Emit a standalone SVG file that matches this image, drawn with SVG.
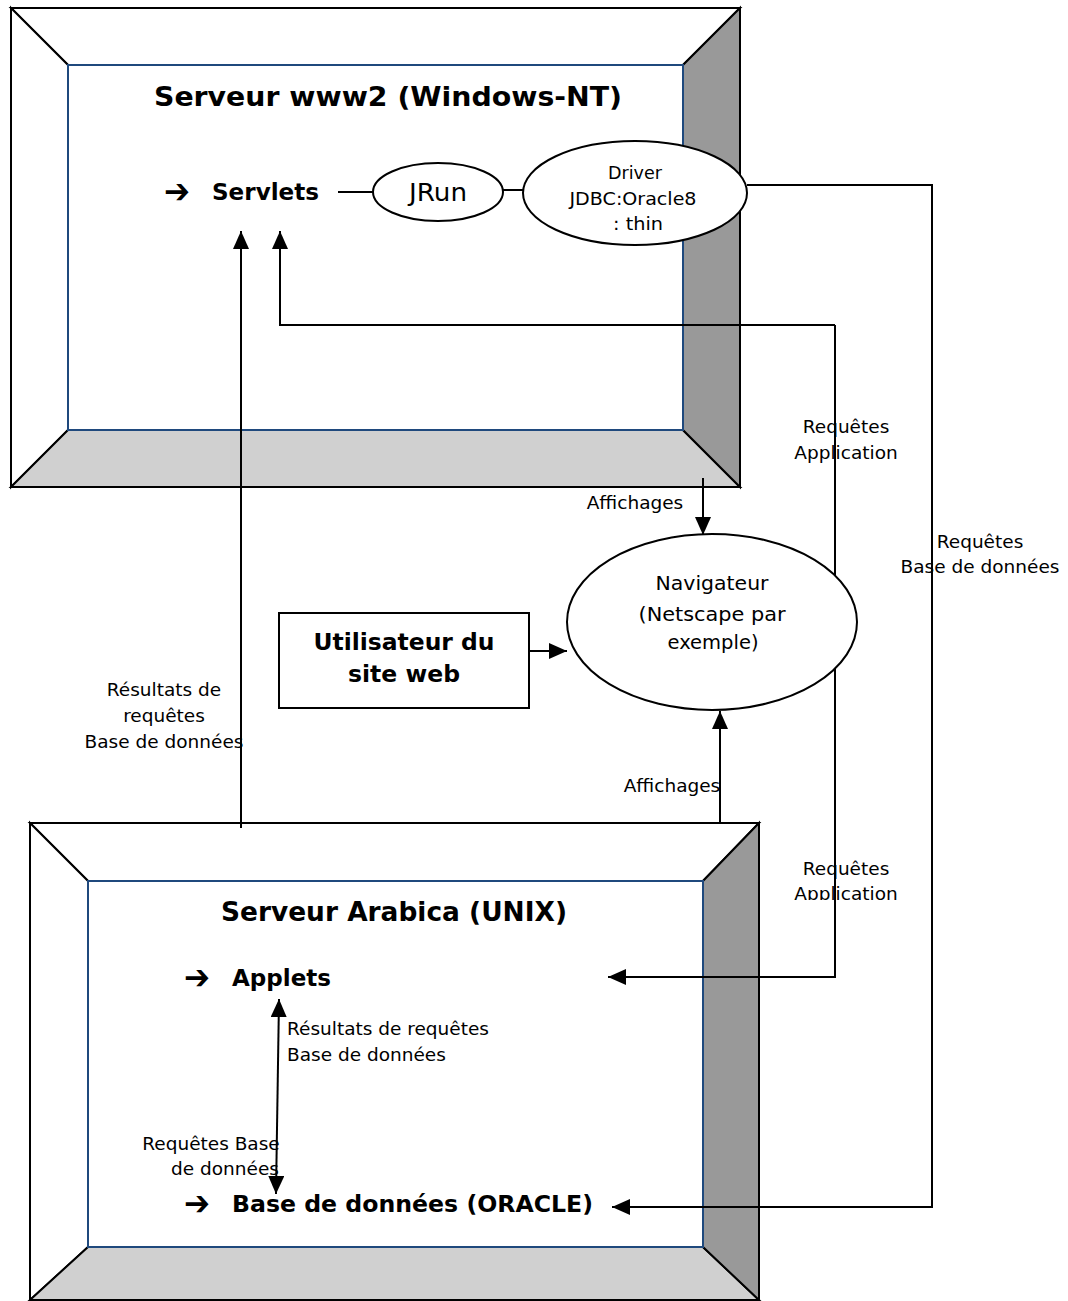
<svg xmlns="http://www.w3.org/2000/svg" width="1068" height="1301" viewBox="0 0 1068 1301">
<style>
  text { font-family: "DejaVu Sans", Verdana, sans-serif; fill: #000; }
  .s { font-size: 18.5px; }
  .n { font-size: 20px; }
  .t { font-size: 26px; font-weight: bold; }
  .m { font-size: 23px; font-weight: bold; }
  .ar { font-size: 34px; font-weight: bold; }
  .c { text-anchor: middle; }
  .ln { fill: none; stroke: #000; stroke-width: 2; }
  .outer { fill: none; stroke: #000; stroke-width: 2; }
  .inner { fill: #fff; stroke: #1f497d; stroke-width: 2; }
  .lt { fill: #fff; stroke: #000; stroke-width: 2; }
  .bt { fill: #d0d0d0; stroke: #000; stroke-width: 2; }
  .rt { fill: #999999; stroke: #000; stroke-width: 2; }
  .node { fill: #fff; stroke: #000; stroke-width: 2; }
</style>
<defs>
  <marker id="ah" markerUnits="userSpaceOnUse" markerWidth="19" markerHeight="16" refX="18" refY="8" orient="auto-start-reverse" viewBox="0 0 19 16">
    <path d="M0,0 L18,8 L0,16 Z" fill="#000"/>
  </marker>
  <clipPath id="clipApp">
    <rect x="760" y="840" width="200" height="60"/>
  </clipPath>
</defs>

<g id="server-www2">
  <polygon class="lt" points="11,8 740,8 683,65 68,65"/>
  <polygon class="lt" points="11,8 68,65 68,430 11,487"/>
  <polygon class="bt" points="11,487 68,430 683,430 740,487"/>
  <polygon class="rt" points="740,8 740,487 683,430 683,65"/>
  <rect class="inner" x="68" y="65" width="615" height="365"/>
  <rect class="outer" x="11" y="8" width="729" height="479"/>
  <text class="t c" x="388" y="106" textLength="468" lengthAdjust="spacingAndGlyphs">Serveur www2 (Windows-NT)</text>
</g>

<g id="server-arabica">
  <polygon class="lt" points="30,823 759,823 703,881 88,881"/>
  <polygon class="lt" points="30,823 88,881 88,1247 30,1300"/>
  <polygon class="bt" points="30,1300 88,1247 703,1247 759,1300"/>
  <polygon class="rt" points="759,823 759,1300 703,1247 703,881"/>
  <rect class="inner" x="88" y="881" width="615" height="366"/>
  <rect class="outer" x="30" y="823" width="729" height="477"/>
  <text class="t c" x="394" y="921" textLength="346" lengthAdjust="spacingAndGlyphs">Serveur Arabica (UNIX)</text>
</g>

<g id="connectors">
  <path class="ln" d="M338,192 H373"/>
  <path class="ln" d="M503,190 H523"/>
  <path class="ln" d="M747,185 H932 V1207 H612" marker-end="url(#ah)"/>
  <path class="ln" d="M835,325 H280 V231" marker-end="url(#ah)"/>
  <path class="ln" d="M835,325 V977 H608" marker-end="url(#ah)"/>
  <path class="ln" d="M241,828 V231" marker-end="url(#ah)"/>
  <path class="ln" d="M703,478 V535" marker-end="url(#ah)"/>
  <path class="ln" d="M529,651 H567" marker-end="url(#ah)"/>
  <path class="ln" d="M720,823 V711" marker-end="url(#ah)"/>
  <path class="ln" d="M279,999 L276,1194" marker-start="url(#ah)" marker-end="url(#ah)"/>
</g>

<g id="servlets">
  <text class="ar" x="164" y="203" textLength="26" lengthAdjust="spacingAndGlyphs">➔</text>
  <text class="m" x="212" y="200" textLength="107" lengthAdjust="spacingAndGlyphs">Servlets</text>
</g>

<g id="jrun">
  <ellipse class="node" cx="438" cy="192" rx="65" ry="29"/>
  <text class="c" x="438" y="201" font-size="24" textLength="58" lengthAdjust="spacingAndGlyphs">JRun</text>
</g>

<g id="driver">
  <ellipse class="node" cx="635" cy="193" rx="112" ry="52"/>
  <text class="s c" x="635" y="179" textLength="54" lengthAdjust="spacingAndGlyphs">Driver</text>
  <text class="s c" x="633" y="205" textLength="127" lengthAdjust="spacingAndGlyphs">JDBC:Oracle8</text>
  <text class="s c" x="638" y="230" textLength="50" lengthAdjust="spacingAndGlyphs">: thin</text>
</g>

<g id="navigateur">
  <ellipse class="node" cx="712" cy="622" rx="145" ry="88"/>
  <text class="n c" x="712" y="590" textLength="113" lengthAdjust="spacingAndGlyphs">Navigateur</text>
  <text class="n c" x="712" y="621" textLength="147" lengthAdjust="spacingAndGlyphs">(Netscape par</text>
  <text class="n c" x="713" y="649" textLength="91" lengthAdjust="spacingAndGlyphs">exemple)</text>
</g>

<g id="utilisateur">
  <rect class="node" x="279" y="613" width="250" height="95"/>
  <text class="m c" x="404" y="650" textLength="181" lengthAdjust="spacingAndGlyphs">Utilisateur du</text>
  <text class="m c" x="404" y="682" textLength="112" lengthAdjust="spacingAndGlyphs">site web</text>
</g>

<g id="applets">
  <text class="ar" x="184" y="989" textLength="26" lengthAdjust="spacingAndGlyphs">➔</text>
  <text class="m" x="232" y="986" textLength="99" lengthAdjust="spacingAndGlyphs">Applets</text>
</g>

<g id="oracle">
  <text class="ar" x="184" y="1215" textLength="26" lengthAdjust="spacingAndGlyphs">➔</text>
  <text class="m" x="232" y="1212" textLength="361" lengthAdjust="spacingAndGlyphs">Base de données (ORACLE)</text>
</g>

<g id="labels">
  <text class="s c" x="846" y="433">Requêtes</text>
  <text class="s c" x="846" y="459">Application</text>
  <text class="s c" x="980" y="548">Requêtes</text>
  <text class="s c" x="980" y="573">Base de données</text>
  <text class="s c" x="635" y="509">Affichages</text>
  <text class="s c" x="164" y="696">Résultats de</text>
  <text class="s c" x="164" y="722">requêtes</text>
  <text class="s c" x="164" y="748">Base de données</text>
  <text class="s c" x="672" y="792">Affichages</text>
  <text class="s c" x="846" y="875">Requêtes</text>
  <text class="s c" x="846" y="900" clip-path="url(#clipApp)">Application</text>
  <text class="s" x="287" y="1035">Résultats de requêtes</text>
  <text class="s" x="287" y="1061">Base de données</text>
  <text class="s c" x="211" y="1150">Requêtes Base</text>
  <text class="s c" x="225" y="1175">de données</text>
</g>
</svg>
